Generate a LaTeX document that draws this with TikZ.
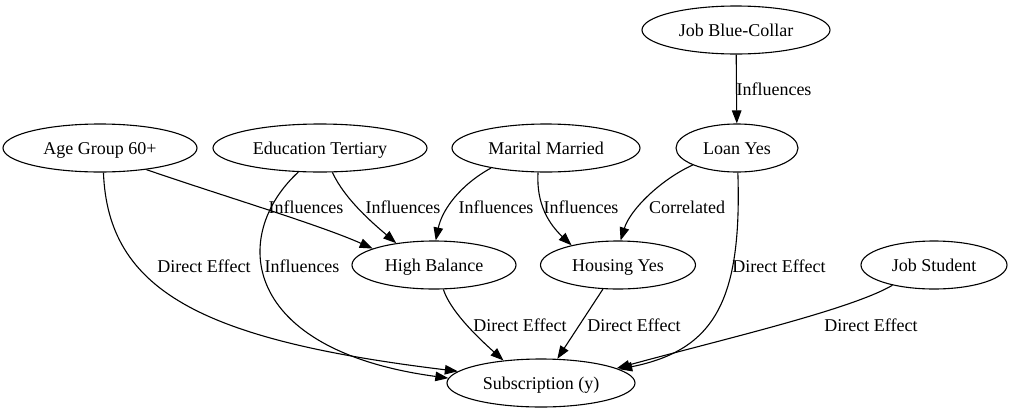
\documentclass[tikz,border=0pt]{standalone}
\usepackage{fontspec}
\setmainfont{Liberation Serif}
\usetikzlibrary{shapes.geometric,arrows.meta}
\tikzset{
	var/.style={ellipse,draw=black,line width=1.1pt,inner sep=0pt,minimum height=48pt,
		font=\fontsize{18}{21}\selectfont,text height=14pt,text depth=2pt},
	link/.style={draw=black,line width=1.1pt,-{Triangle[length=13pt,width=9.5pt]}},
	lbl/.style={inner sep=0pt,font=\fontsize{18}{21}\selectfont,text height=14pt,text depth=2pt},
}

\begin{document}
\begin{tikzpicture}[x=1pt,y=-1pt]
	\useasboundingbox (0,0) rectangle (1012,413);
	% variables
	\node[var,minimum width=188pt] (blue) at (736,30) {Job Blue-Collar};
	\node[var,minimum width=194pt] (age) at (100,148) {Age Group 60+};
	\node[var,minimum width=214pt] (edu) at (320,148) {Education Tertiary};
	\node[var,minimum width=188pt] (mar) at (546,148) {Marital Married};
	\node[var,minimum width=122pt] (loan) at (737,148) {Loan Yes};
	\node[var,minimum width=164pt] (bal) at (434,265) {High Balance};
	\node[var,minimum width=155pt] (house) at (618,265) {Housing Yes};
	\node[var,minimum width=146pt] (stud) at (934,265) {Job Student};
	\node[var,minimum width=188pt] (sub) at (541,383) {Subscription (y)};
	% connectors
	\draw[link] (blue) -- (loan);
	\draw[link] (age.-25) .. controls (220,195) and (320,225) .. (bal.165);
	\draw[link] (age.-82) .. controls (108,290) and (200,340) .. (sub.172);
	\draw[link] (edu.-132) .. controls (230,235) and (240,350) .. (sub.177);
	\draw[link] (edu.-63) .. controls (345,200) and (375,225) .. (bal.150);
	\draw[link] (mar.-160) .. controls (460,185) and (442,210) .. (bal.86);
	\draw[link] (mar.-108) .. controls (536,205) and (550,225) .. (house.157);
	\draw[link] (loan.-159) .. controls (660,180) and (630,210) .. (house.84);
	\draw[link] (loan.-88) .. controls (742,300) and (715,350) .. (sub.10);
	\draw[link] (bal.-69) .. controls (450,310) and (475,335) .. (sub.149);
	\draw[link] (house.-122) -- (sub.56);
	\draw[link] (stud.-154) .. controls (850,310) and (720,340) .. (sub.11);
	% labels
	\node[lbl] (l1) at (774,89) {Influences};
	\node[lbl] (l2) at (306,207) {Influences};
	\node[lbl] (l3) at (403,207) {Influences};
	\node[lbl] (l4) at (496,207) {Influences};
	\node[lbl] (l5) at (581,207) {Influences};
	\node[lbl] (l6) at (687,207) {Correlated};
	\node[lbl] (l7) at (204,266) {Direct Effect};
	\node[lbl] (l8) at (302,266) {Influences};
	\node[lbl] (l9) at (779,266) {Direct Effect};
	\node[lbl] (l10) at (520,325) {Direct Effect};
	\node[lbl] (l11) at (634,325) {Direct Effect};
	\node[lbl] (l12) at (871,325) {Direct Effect};
\end{tikzpicture}
\end{document}
